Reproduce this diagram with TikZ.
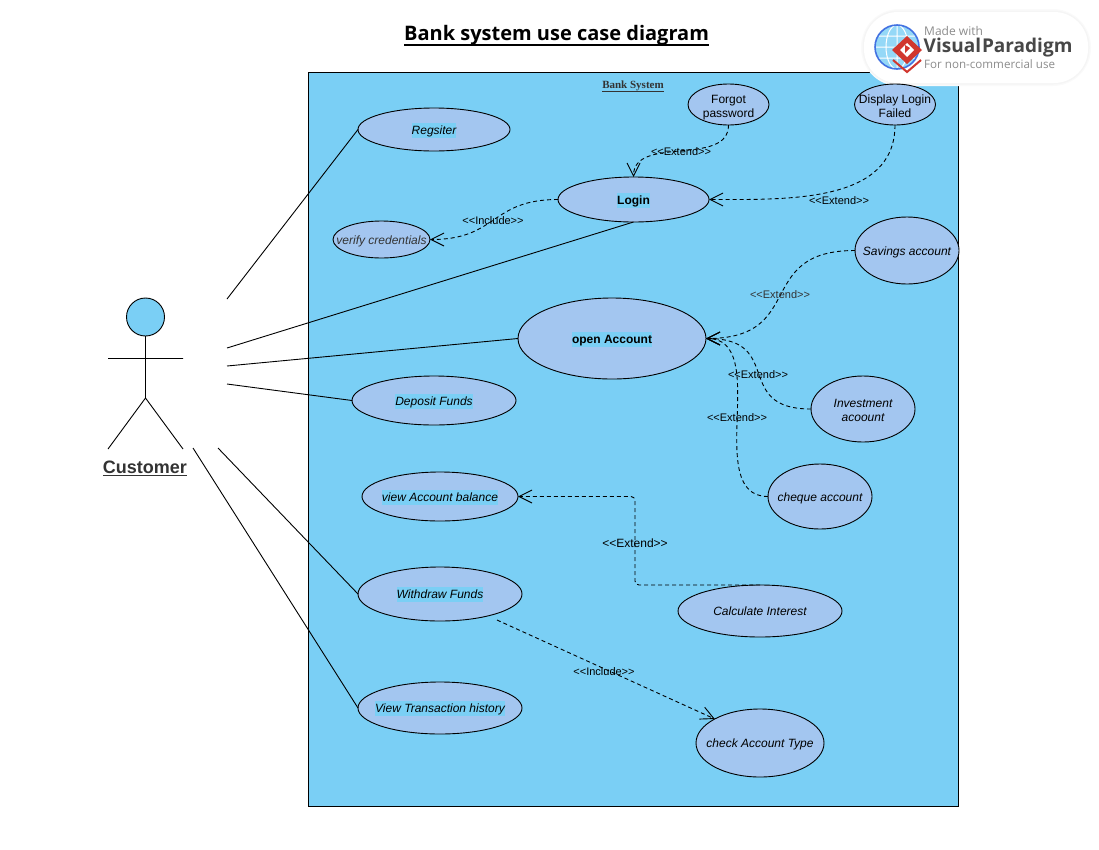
\documentclass[tikz,border=0pt]{standalone}
\usepackage{fontspec}
\newfontfamily\umlfont{Liberation Sans}
\newfontfamily\titlefont{Open Sans}
\newfontfamily\sysfont{Liberation Serif}
\usetikzlibrary{shapes.geometric,arrows.meta}
\definecolor{sysblue}{HTML}{7ACFF5}
\definecolor{casefill}{HTML}{A3C6F0}
\definecolor{darktext}{HTML}{333333}
\definecolor{logogray}{HTML}{8C8C8C}
\definecolor{logored}{HTML}{D1372E}
\newlength{\ulwd}
\newcommand{\hlt}[1]{{\setlength{\fboxsep}{0pt}\colorbox{sysblue}{\rule[-3.5pt]{0pt}{15pt}#1}}}
\newcommand{\uln}[3]{\settowidth{\ulwd}{#3}\rlap{\rule[-#1]{\ulwd}{#2}}#3}
\tikzset{
  usecase/.style 2 args={ellipse, draw=black, fill=casefill, line width=0.9pt, outer sep=0pt,
    inner sep=-50pt, minimum width=#1pt, minimum height=#2pt, align=center,
    execute at begin node={\rule[-4pt]{0pt}{17pt}},
    font=\umlfont\fontsize{12}{14}\selectfont},
  twoline/.style={execute at begin node={\rule{0pt}{29pt}}},
  assoc/.style={line width=0.9pt},
  dep/.style={line width=0.9pt, dash pattern=on 4pt off 3pt, -{Straight Barb[length=13pt,width=13pt,line width=0.9pt]}},
  deplabel/.style={font=\umlfont\fontsize{11}{13}\selectfont, inner sep=0pt}
}
\begin{document}
\begin{tikzpicture}[x=1pt,y=-1pt]
  \useasboundingbox (0,0) rectangle (1099,849);
  \node[inner sep=0pt, font=\titlefont\bfseries\fontsize{20}{24}\selectfont] (title) at (556.5,35.5) {\uln{5pt}{1.5pt}{Bank system use case diagram}};
  \draw[fill=sysblue, line width=0.9pt] (308.5,72.5) rectangle (958.5,806.5);
  % logo
  \fill[black!2, rounded corners=38pt] (861,9) rectangle (1091,86);
  \fill[black!4, rounded corners=36pt] (862.5,10.5) rectangle (1089.5,84.5);
  \fill[white, rounded corners=34pt] (864,12) rectangle (1088,83);
  \begin{scope}
    \clip (897,47) circle (22);
    \fill[sysblue!80] (875,25) rectangle (919,69);
    \draw[white, line width=1pt] (875,47) -- (919,47) (875,36) -- (919,36) (875,58) -- (919,58)
      (897,25) -- (897,69) (897,47) ellipse (11 and 22);
  \end{scope}
  \draw[black!20!blue!45!sysblue, line width=1.6pt] (897,47) circle (22);
  \fill[logored] (907,36) -- (922,50) -- (907,64) -- (892,50) -- cycle;
  \fill[white] (907,43) -- (914,50) -- (907,57) -- (900,50) -- cycle;
  \fill[logored] (905,45) -- (910,48) -- (905,53) -- cycle;
  \draw[logored, line width=2pt] (893,60) -- (907,72) -- (921,60);
  \node[anchor=west, inner sep=0pt, text=logogray, font=\titlefont\fontsize{12}{14}\selectfont] (logotop) at (924,31) {Made with};
  \node[anchor=west, inner sep=0pt, text=darktext!90, font=\titlefont\bfseries\fontsize{19}{22}\selectfont] (logomid) at (923.5,47.5) {Visual\kern1pt Paradigm};
  \node[anchor=west, inner sep=0pt, text=logogray, font=\titlefont\fontsize{11.6}{13}\selectfont] (logobot) at (924,64) {For non-commercial use};

  \node[inner sep=0pt, text=darktext, font=\sysfont\bfseries\fontsize{11}{13}\selectfont] (systitle) at (633,86) {\uln{3pt}{0.8pt}{Bank System}};

  \node[usecase={152}{43}] (regsiter) at (434,129.5) {\itshape\hlt{Regsiter}};
  \node[usecase={151}{45}] (login) at (633.5,199.5) {\bfseries\hlt{Login}};
  \node[usecase={97}{37}, text=darktext] (verify) at (381.5,239.5) {\itshape verify credentials};
  \node[usecase={81}{41}, twoline] (forgot) at (728.5,104.5) {Forgot\\password};
  \node[usecase={81}{41}, twoline] (display) at (895,104.5) {Display Login\\Failed};
  \node[usecase={104}{67}] (savings) at (907,250.5) {\itshape Savings account};
  \node[usecase={188}{81}] (open) at (612,338.5) {\bfseries\hlt{open Account}};
  \node[usecase={164}{49}] (deposit) at (434,400.5) {\itshape\hlt{Deposit Funds}};
  \node[usecase={104}{66}, twoline] (invest) at (863,409) {\itshape Investment\\\itshape acoount};
  \node[usecase={104}{65}] (cheque) at (820,496.5) {\itshape cheque account};
  \node[usecase={156}{49}] (balance) at (440,496.5) {\itshape\hlt{view Account balance}};
  \node[usecase={164}{54}] (withdraw) at (440,594) {\itshape\hlt{Withdraw Funds}};
  \node[usecase={164}{52}] (interest) at (760,611) {\itshape Calculate Interest};
  \node[usecase={164}{52}] (history) at (440,708) {\itshape\hlt{View Transaction history}};
  \node[usecase={128}{68}] (acctype) at (760,743) {\itshape check Account Type};

  \node[circle, draw=black, fill=sysblue, line width=0.9pt, minimum size=38pt, inner sep=0pt, outer sep=0pt] (head) at (145.5,317) {};
  \coordinate (hip) at (145.5,398);
  \coordinate (armL) at (108,358.5);
  \coordinate (armR) at (183,358.5);
  \coordinate (footL) at (108,449);
  \coordinate (footR) at (183,449);
  \draw[assoc] (head) -- (hip) (armL) -- (armR) (footL) -- (hip) -- (footR);
  \node[inner sep=0pt, text=darktext, font=\umlfont\bfseries\fontsize{18}{21}\selectfont] (customer) at (145,468) {\underline{Customer}};

  \coordinate (a1) at (227,299);
  \coordinate (a2) at (227,348);
  \coordinate (a3) at (227,366);
  \coordinate (a4) at (227,384);
  \coordinate (a5) at (218,448);
  \coordinate (a6) at (193,448);
  \draw[assoc] (a1) -- (regsiter.west);
  \draw[assoc] (a2) -- (login.south);
  \draw[assoc] (a3) -- (open.west);
  \draw[assoc] (a4) -- (deposit.west);
  \draw[assoc] (a5) -- (withdraw.west);
  \draw[assoc] (a6) -- (history.west);

  \draw[dep] (login.west) to[out=180,in=0,looseness=1.3] (verify.east);
  \draw[dep] (forgot.south) to[out=-90,in=90] (login.north);
  \draw[dep] (display.south) to[out=-90,in=0] (login.east);
  \draw[dep] (savings.west) to[out=180,in=0,looseness=1.5] (open.east);
  \draw[dep] (invest.west) to[out=180,in=0,looseness=1.6] (open.east);
  \draw[dep] (cheque.west) to[out=180,in=0] (open.east);
  \coordinate (bend) at (635,541);
  \draw[dep, rounded corners=4pt] (interest.north) -| (bend) |- (balance.east);
  \coordinate (inclstart) at (497,620);
  \draw[dep] (inclstart) -- (acctype.north west);

  \node[deplabel] (ext1) at (681,152) {<<Extend>>};
  \node[deplabel] (ext2) at (839,201) {<<Extend>>};
  \node[deplabel] (inc1) at (493,221) {<<Include>>};
  \node[deplabel, text=darktext] (ext3) at (780,295) {<<Extend>>};
  \node[deplabel] (ext4) at (758,375) {<<Extend>>};
  \node[deplabel] (ext5) at (737,418) {<<Extend>>};
  \node[deplabel, font=\umlfont\fontsize{12}{14}\selectfont] (ext6) at (635,543.5) {<<Extend>>};
  \node[deplabel] (inc2) at (604,672) {<<Include>>};
\end{tikzpicture}
\end{document}
